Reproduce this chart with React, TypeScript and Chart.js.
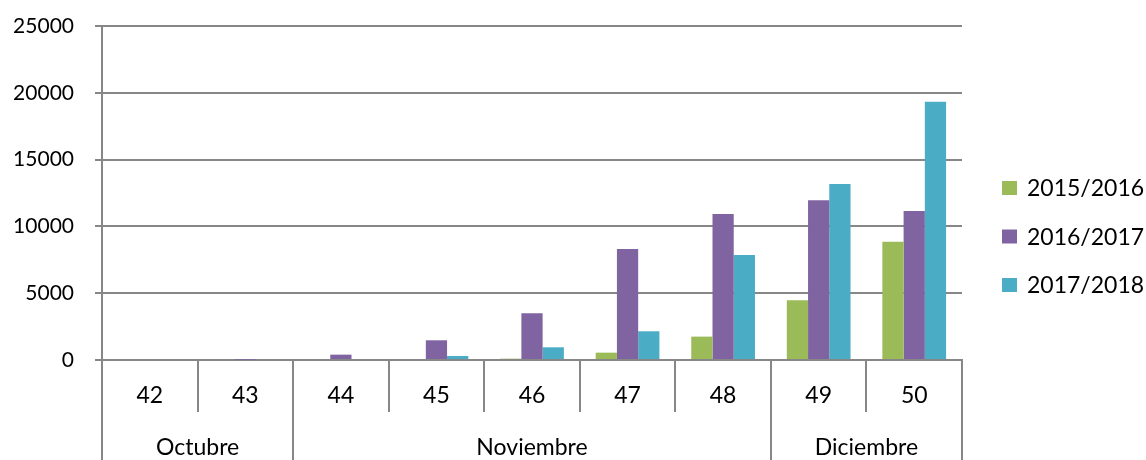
import React, { useEffect, useRef } from 'react';
import { Chart, registerables } from 'chart.js';

Chart.register(...registerables);

// Week numbers on the lower axis, grouped by month
const weeks = ['42', '43', '44', '45', '46', '47', '48', '49', '50'];
const months = ['Octubre', 'Noviembre', 'Diciembre'];
const weeksPerMonth = [2, 5, 2];

// One series per season
const seasons = ['2015/2016', '2016/2017', '2017/2018'];
const season1516 = [0, 0, 0, 0, 100, 550, 1750, 4475, 8850];
const season1617 = [0, 20, 400, 1475, 3500, 8300, 10925, 11950, 11150];
const season1718 = [0, 0, 0, 300, 950, 2150, 7850, 13175, 19325];

const yMax = 25000;
const yStep = 5000;

const seasonColors = ['#9BBB59', '#8064A2', '#4BACC6'];
const axisColor = '#878787';
const fontFamily = 'Lato, "Open Sans", sans-serif';

// Draws the week separators, the month row and its labels under the x axis
const monthAxis = {
  id: 'monthAxis',
  afterDraw(chart: any) {
    const { ctx, chartArea } = chart;
    const x = chart.scales.x;
    const n = weeks.length;
    const edge = (i: number) =>
      i === 0
        ? chartArea.left
        : i === n
        ? chartArea.right
        : (x.getPixelForTick(i - 1) + x.getPixelForTick(i)) / 2;

    const monthEdges = new Set<number>([0]);
    let acc = 0;
    weeksPerMonth.forEach((c) => {
      acc += c;
      monthEdges.add(acc);
    });

    ctx.save();
    ctx.strokeStyle = axisColor;
    ctx.lineWidth = 2;
    for (let i = 0; i <= n; i++) {
      const px = Math.round(edge(i));
      ctx.beginPath();
      ctx.moveTo(px, chartArea.bottom);
      ctx.lineTo(px, monthEdges.has(i) ? chart.height : chartArea.bottom + 52);
      ctx.stroke();
    }

    ctx.fillStyle = '#000';
    ctx.font = `23px ${fontFamily}`;
    ctx.textAlign = 'center';
    ctx.textBaseline = 'middle';
    let start = 0;
    months.forEach((m, k) => {
      const end = start + weeksPerMonth[k];
      ctx.fillText(m, (edge(start) + edge(end)) / 2, chartArea.bottom + 88);
      start = end;
    });
    ctx.restore();
  },
};

// Legend column to the right of the plot
const sideLegend = {
  id: 'sideLegend',
  afterDraw(chart: any) {
    const { ctx, chartArea } = chart;
    ctx.save();
    chart.data.datasets.forEach((ds: any, i: number) => {
      const cy = 188 + i * 48.5;
      const bx = chartArea.right + 40;
      ctx.fillStyle = ds.backgroundColor;
      ctx.fillRect(bx, cy - 7, 15, 14);
      ctx.fillStyle = '#000';
      ctx.font = `23px ${fontFamily}`;
      ctx.textAlign = 'left';
      ctx.textBaseline = 'middle';
      ctx.fillText(ds.label, bx + 25, cy + 1);
    });
    ctx.restore();
  },
};

export default function App() {
  const canvasRef = useRef<HTMLCanvasElement | null>(null);

  useEffect(() => {
    const canvas = canvasRef.current;
    if (!canvas) return;
    const series = [season1516, season1617, season1718];
    const chart = new Chart(canvas, {
      type: 'bar',
      data: {
        labels: weeks,
        datasets: seasons.map((label, i) => ({
          label,
          data: series[i],
          backgroundColor: seasonColors[i],
          borderWidth: 0,
          categoryPercentage: 0.667,
          barPercentage: 1,
        })),
      },
      options: {
        animation: false,
        responsive: false,
        devicePixelRatio: 1,
        layout: { padding: { top: 26, right: 184, bottom: 0, left: 0 } },
        plugins: {
          legend: { display: false },
          tooltip: { enabled: false },
        },
        scales: {
          x: {
            afterFit: (s: any) => {
              s.height = 100;
              s.paddingLeft = 0;
              s.paddingRight = 0;
            },
            grid: { display: false, drawTicks: false },
            border: { display: true, color: axisColor, width: 2 },
            ticks: {
              color: '#000',
              font: { family: fontFamily, size: 23 },
              padding: 22,
              maxRotation: 0,
            },
          },
          y: {
            min: 0,
            max: yMax,
            afterFit: (s: any) => {
              s.width = 102;
              s.paddingTop = 0;
              s.paddingBottom = 0;
            },
            grid: {
              color: axisColor,
              lineWidth: 2,
              tickLength: 7,
              drawTicks: true,
            },
            border: { display: true, color: axisColor, width: 2 },
            ticks: {
              stepSize: yStep,
              color: '#000',
              font: { family: fontFamily, size: 21 },
              padding: 21,
              callback: (v: any) => String(v),
            },
          },
        },
      },
      plugins: [monthAxis, sideLegend],
    });
    return () => chart.destroy();
  }, []);

  return (
    <div style={{ position: 'fixed', left: 0, top: 0, width: 1146, height: 460, background: '#fff' }}>
      <canvas ref={canvasRef} width={1146} height={460} style={{ width: 1146, height: 460 }} />
    </div>
  );
}
